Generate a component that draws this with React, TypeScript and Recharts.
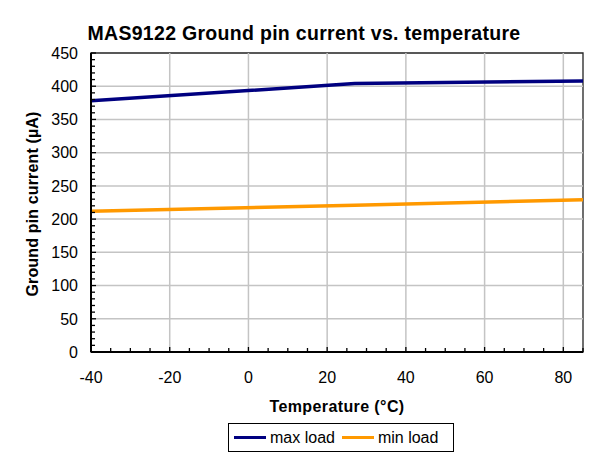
import React from "react";
import {
  Line,
  LineChart,
  ReferenceArea,
  ReferenceLine,
  XAxis,
  YAxis,
} from "recharts";

const TEMPS = [-40, 27, 85];
const MAX_LOAD = [378, 404, 408];
const MIN_LOAD = [212, 221, 229];

const X_MAJOR = [-40, -20, 0, 20, 40, 60, 80];
const X_TICKS = [
  -40, -35, -30, -25, -20, -15, -10, -5, 0, 5, 10, 15, 20, 25, 30, 35, 40, 45,
  50, 55, 60, 65, 70, 75, 80, 85,
];
const Y_MAJOR = [0, 50, 100, 150, 200, 250, 300, 350, 400, 450];
const Y_TICKS = [
  0, 10, 20, 30, 40, 50, 60, 70, 80, 90, 100, 110, 120, 130, 140, 150, 160,
  170, 180, 190, 200, 210, 220, 230, 240, 250, 260, 270, 280, 290, 300, 310,
  320, 330, 340, 350, 360, 370, 380, 390, 400, 410, 420, 430, 440, 450,
];
const X_GRID = [-20, 0, 20, 40, 60, 80];
const Y_GRID = [50, 100, 150, 200, 250, 300, 350, 400];

const SERIES = [
  { key: "max", name: "max load", color: "#000080" },
  { key: "min", name: "min load", color: "#FF9900" },
];

const rows = TEMPS.map((t, i) => ({ temp: t, max: MAX_LOAD[i], min: MIN_LOAD[i] }));

const FONT = '"Liberation Sans", Arial, Helvetica, sans-serif';

function XTick(props: any) {
  const { x, y, payload } = props;
  const v = payload.value as number;
  const major = X_MAJOR.includes(v);
  return (
    <g>
      <line x1={x} x2={x} y1={y} y2={y - (major ? 5 : 4)} stroke="#000" strokeWidth={1.3} />
      {major && (
        <text x={x} y={y + 25} dy="0.36em" textAnchor="middle" fontSize={16} fill="#000" fontFamily={FONT}>
          {v}
        </text>
      )}
    </g>
  );
}

function YTick(props: any) {
  const { x, y, payload } = props;
  const v = payload.value as number;
  const major = Y_MAJOR.includes(v);
  return (
    <g>
      <line x1={x} x2={x + (major ? 5 : 4)} y1={y} y2={y} stroke="#000" strokeWidth={1.3} />
      {major && (
        <text x={x - 13} y={y} dy="0.36em" textAnchor="end" fontSize={16} fill="#000" fontFamily={FONT}>
          {v}
        </text>
      )}
    </g>
  );
}

export default function App() {
  return (
    <div
      style={{
        position: "relative",
        width: 597,
        height: 461,
        margin: "-8px 0 0 -8px",
        overflow: "hidden",
        background: "#fff",
        fontFamily: FONT,
      }}
    >
      <div style={{ position: "absolute", left: 0, top: 0 }}>
        <LineChart
          width={597}
          height={461}
          data={rows}
          margin={{ top: 53, right: 14, bottom: 79, left: 31 }}
        >
          {X_GRID.map((v) => (
            <ReferenceLine key={`gx${v}`} x={v} stroke="#c4c4c4" strokeWidth={1.5} />
          ))}
          {Y_GRID.map((v) => (
            <ReferenceLine key={`gy${v}`} y={v} stroke="#c4c4c4" strokeWidth={1.5} />
          ))}
          <ReferenceArea
            x1={-40}
            x2={85}
            y1={0}
            y2={450}
            fill="none"
            fillOpacity={0}
            stroke="#222"
            strokeWidth={1.3}
          />
          <XAxis
            dataKey="temp"
            type="number"
            domain={[-40, 85]}
            ticks={X_TICKS}
            interval={0}
            allowDataOverflow
            height={30}
            tickLine={false}
            tickSize={0}
            tickMargin={0}
            axisLine={{ stroke: "#000", strokeWidth: 2 }}
            tick={<XTick />}
          />
          <YAxis
            type="number"
            domain={[0, 450]}
            ticks={Y_TICKS}
            interval={0}
            allowDataOverflow
            width={60}
            tickLine={false}
            tickSize={0}
            tickMargin={0}
            axisLine={{ stroke: "#000", strokeWidth: 2 }}
            tick={<YTick />}
          />
          {SERIES.map((s) => (
            <Line
              key={s.key}
              dataKey={s.key}
              name={s.name}
              stroke={s.color}
              strokeWidth={3.5}
              dot={false}
              activeDot={false}
              type="linear"
              isAnimationActive={false}
            />
          ))}
        </LineChart>
      </div>
      <svg
        width={597}
        height={461}
        style={{ position: "absolute", left: 0, top: 0, pointerEvents: "none" }}
      >
        <text
          x={304}
          y={40}
          textAnchor="middle"
          fontSize={19.5}
          fontWeight="bold"
          letterSpacing={0.3}
          fontFamily={FONT}
          fill="#000"
        >
          MAS9122 Ground pin current vs. temperature
        </text>
        <text
          x={337}
          y={412}
          textAnchor="middle"
          fontSize={16}
          fontWeight="bold"
          letterSpacing={0.4}
          fontFamily={FONT}
          fill="#000"
        >
          Temperature (°C)
        </text>
        <text
          transform="translate(38, 204) rotate(-90)"
          textAnchor="middle"
          fontSize={16}
          fontWeight="bold"
          letterSpacing={0.15}
          fontFamily={FONT}
          fill="#000"
        >
          Ground pin current (µA)
        </text>
      </svg>
      <div
        style={{
          position: "absolute",
          left: 228,
          top: 423,
          width: 219,
          height: 27,
          border: "1.5px solid #000",
          display: "flex",
          alignItems: "center",
          paddingLeft: 5,
          boxSizing: "content-box",
        }}
      >
        {SERIES.map((s) => (
          <div key={s.key} style={{ display: "flex", alignItems: "center", marginRight: 7 }}>
            <div style={{ width: 32, height: 3.5, background: s.color, marginRight: 4 }} />
            <span style={{ fontSize: 16, color: "#000", whiteSpace: "nowrap" }}>{s.name}</span>
          </div>
        ))}
      </div>
      <div style={{ position: "absolute", left: 5, top: 4, width: 592, height: 2, background: "#111" }} />
      <div style={{ position: "absolute", left: 5, top: 4, width: 2, height: 457, background: "#111" }} />
    </div>
  );
}
